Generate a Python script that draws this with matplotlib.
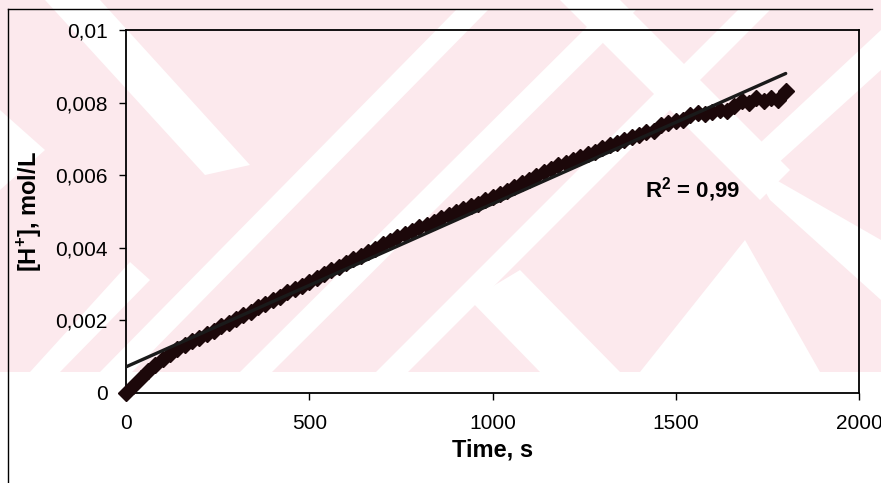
import matplotlib.pyplot as plt
from matplotlib.patches import Polygon, Rectangle
from matplotlib.lines import Line2D
from matplotlib.ticker import FuncFormatter

plt.rcParams['font.family'] = ['Liberation Sans', 'DejaVu Sans']
plt.rcParams['mathtext.fontset'] = 'custom'
plt.rcParams['mathtext.rm'] = 'Liberation Sans:bold'
plt.rcParams['mathtext.bf'] = 'Liberation Sans:bold'

time_s = list(range(0, 1801, 20))
h_conc = [
    0.00000, 0.00020, 0.00040, 0.00060, 0.00078, 0.00095, 0.00108, 0.00122, 0.00133, 0.00143,
    0.00152, 0.00163, 0.00172, 0.00184, 0.00194, 0.00203, 0.00214, 0.00222, 0.00236, 0.00245,
    0.00256, 0.00265, 0.00278, 0.00286, 0.00296, 0.00305, 0.00318, 0.00327, 0.00338, 0.00347,
    0.00357, 0.00369, 0.00377, 0.00388, 0.00397, 0.00410, 0.00419, 0.00430, 0.00438, 0.00447,
    0.00456, 0.00464, 0.00472, 0.00481, 0.00490, 0.00499, 0.00506, 0.00515, 0.00522, 0.00532,
    0.00540, 0.00548, 0.00556, 0.00568, 0.00578, 0.00588, 0.00598, 0.00610, 0.00617, 0.00627,
    0.00634, 0.00643, 0.00650, 0.00658, 0.00665, 0.00675, 0.00683, 0.00690, 0.00697, 0.00705,
    0.00712, 0.00718, 0.00722, 0.00738, 0.00745, 0.00748, 0.00752, 0.00765, 0.00770, 0.00768,
    0.00775, 0.00780, 0.00778, 0.00790, 0.00805, 0.00800, 0.00812, 0.00805, 0.00812, 0.00808,
    0.00832,
]

# linear trend line (Excel style), read from its two ends
trend_x = [0, 1800]
trend_intercept = 0.00072
trend_slope = 4.49e-6
r2_label = 'R$^2$ = 0,99'

x_ticks = [0, 500, 1000, 1500, 2000]
y_ticks = [0, 0.002, 0.004, 0.006, 0.008, 0.01]

W, H = 881, 483
fig = plt.figure(figsize=(W / 100, H / 100), dpi=100)


def px(x, y):
    # pixel (from top-left) -> figure fraction
    return (x / W, 1 - y / H)


# pink watermark of the scanned page
wm_color = '#fce9ed'
wm_rect = Rectangle(px(0, 372), 1, 372 / H, transform=fig.transFigure,
                    facecolor=wm_color, edgecolor='none', zorder=-10)
fig.add_artist(wm_rect)
white_bands = [
    [(30, 372), (60, 372), (150, 280), (130, 262)],
    [(100, 372), (132, 372), (488, 10), (456, 10)],
    [(240, 372), (272, 372), (636, 10), (604, 10)],
    [(376, 372), (408, 372), (770, 10), (738, 10)],
    [(45, 0), (100, 0), (250, 165), (205, 175)],
    [(0, 110), (0, 190), (45, 150)],
    [(540, 372), (620, 372), (520, 270), (470, 300)],
    [(640, 372), (820, 372), (745, 240)],
    [(745, 157), (881, 30), (881, 70), (765, 175)],
    [(750, 165), (881, 240), (881, 300), (770, 200)],
    [(560, 0), (620, 0), (790, 170), (760, 200)],
]
for band in white_bands:
    poly = Polygon([px(*p) for p in band], closed=True, transform=fig.transFigure,
                   facecolor='white', edgecolor='none', zorder=-9)
    poly.set_clip_path(wm_rect)
    fig.add_artist(poly)

# border of the scanned figure (left and top only)
fig.add_artist(Line2D([8 / W, 8 / W], [0, 1 - 9 / H], transform=fig.transFigure,
                      color='black', lw=1.0))
fig.add_artist(Line2D([8 / W, 872 / W], [1 - 9 / H, 1 - 9 / H], transform=fig.transFigure,
                      color='black', lw=1.0))

ax = fig.add_axes([126 / W, 1 - 393 / H, (859 - 126) / W, (393 - 30) / H])
ax.set_facecolor('none')

ax.plot(time_s, h_conc, linestyle='none', marker='D', markersize=8.5,
        color='#1c080a', markeredgecolor='#1c080a', clip_on=False, zorder=3)

trend_y = [trend_intercept + trend_slope * t for t in trend_x]
ax.plot(trend_x, trend_y, color='#1a1a1a', lw=2.4, solid_capstyle='round', zorder=4)

ax.text(1416, 0.0054, r2_label, fontsize=16, fontweight='bold', ha='left', va='baseline')

ax.set_xlim(0, 2000)
ax.set_ylim(0, 0.01)
ax.set_xticks(x_ticks)
ax.set_yticks(y_ticks)
ax.yaxis.set_major_formatter(FuncFormatter(lambda v, p: ('%g' % round(v, 4)).replace('.', ',')))
ax.tick_params(direction='out', length=5, width=1, labelsize=15, pad=8)
ax.tick_params(axis='x', pad=10)

ax.set_xlabel('Time, s', fontsize=17, fontweight='bold', labelpad=4)
ax.set_ylabel(r'[H$^\mathbf{+}$], mol/L', fontsize=17, fontweight='bold', labelpad=8)

for spine in ax.spines.values():
    spine.set_linewidth(1.3)
    spine.set_color('black')

fig.savefig('out.png', dpi=100)
